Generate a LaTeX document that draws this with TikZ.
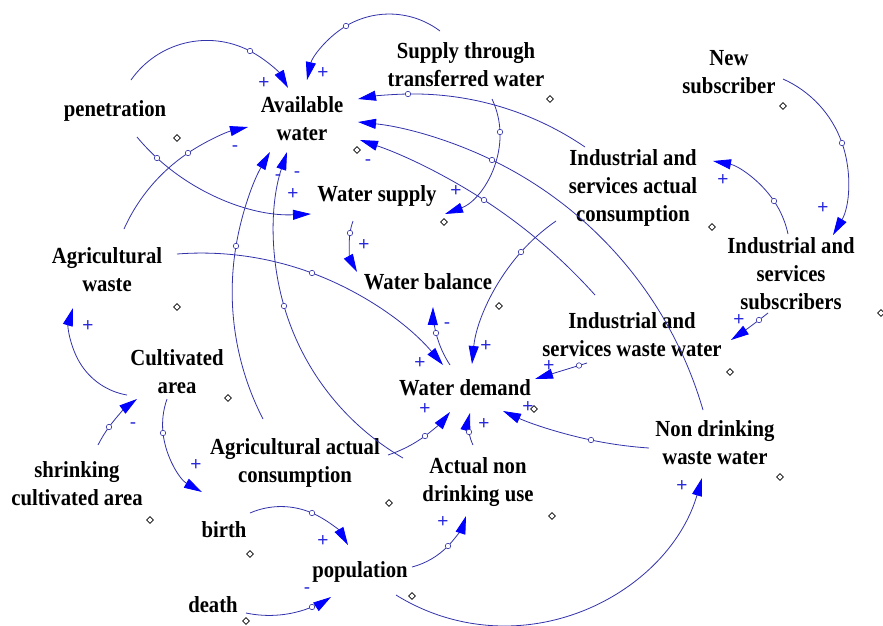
\documentclass[tikz,border=0pt]{standalone}
\usepackage{fontspec}
\setmainfont{Liberation Serif}
\newfontfamily\varfont{Liberation Serif}[FakeStretch=0.9]
\newfontfamily\signfont{Liberation Sans}
\usetikzlibrary{arrows.meta,shapes.geometric}
\definecolor{linkblue}{RGB}{50,50,170}
\definecolor{tipblue}{RGB}{0,0,255}
\definecolor{signblue}{RGB}{40,40,220}
\makeatletter
\newcommand\vnode[4]{%
  \node[var] (#1) at (#2,#3) {#4};%
  \expandafter\xdef\csname cx@#1\endcsname{#2}%
  \expandafter\xdef\csname cy@#1\endcsname{#3}}
% #1 from node, #2 #3 start point, #4 handle name, #5 #6 handle point, #7 to node, #8 #9 end point
\newcommand\cldlink[9]{%
  \edef\cl@fx{\csname cx@#1\endcsname}\edef\cl@fy{\csname cy@#1\endcsname}%
  \edef\cl@tx{\csname cx@#7\endcsname}\edef\cl@ty{\csname cy@#7\endcsname}%
  \pgfmathsetmacro\cl@sdx{(#2)-(\cl@fx)}%
  \pgfmathsetmacro\cl@sdy{(#3)-(\cl@fy)}%
  \pgfmathsetmacro\cl@edx{(#8)-(\cl@tx)}%
  \pgfmathsetmacro\cl@edy{(#9)-(\cl@ty)}%
  \pgfmathsetmacro\cl@bx{((#5)-(#2))/100}%
  \pgfmathsetmacro\cl@by{((#6)-(#3))/100}%
  \pgfmathsetmacro\cl@cx{((#8)-(#2))/100}%
  \pgfmathsetmacro\cl@cy{((#9)-(#3))/100}%
  \pgfmathsetmacro\cl@D{2*((\cl@bx)*(\cl@cy)-(\cl@by)*(\cl@cx))}%
  \pgfmathsetmacro\cl@lim{veclen(\cl@bx,\cl@by)*veclen(\cl@cx,\cl@cy)*veclen((\cl@cx)-(\cl@bx),(\cl@cy)-(\cl@by))/40}%
  \pgfmathtruncatemacro\cl@straight{abs(\cl@D)<(\cl@lim) ? 1 : 0}%
  \coordinate (#4) at (#5,#6);%
  \ifnum\cl@straight=1
    \draw[link] ([shift={(\cl@sdx,\cl@sdy)}]#1.center) -- (#4) -- ([shift={(\cl@edx,\cl@edy)}]#7.center);%
  \else
    \pgfmathsetmacro\cl@bb{(\cl@bx)*(\cl@bx)+(\cl@by)*(\cl@by)}%
    \pgfmathsetmacro\cl@cc{(\cl@cx)*(\cl@cx)+(\cl@cy)*(\cl@cy)}%
    \pgfmathsetmacro\cl@ox{((\cl@cy)*(\cl@bb)-(\cl@by)*(\cl@cc))/(\cl@D)}%
    \pgfmathsetmacro\cl@oy{((\cl@bx)*(\cl@cc)-(\cl@cx)*(\cl@bb))/(\cl@D)}%
    \pgfmathsetmacro\cl@aA{atan2(-(\cl@oy),-(\cl@ox))}%
    \pgfmathsetmacro\cl@aB{atan2((\cl@by)-(\cl@oy),(\cl@bx)-(\cl@ox))}%
    \pgfmathsetmacro\cl@aC{atan2((\cl@cy)-(\cl@oy),(\cl@cx)-(\cl@ox))}%
    \pgfmathsetmacro\cl@dB{Mod((\cl@aB)-(\cl@aA),360)}%
    \pgfmathsetmacro\cl@dC{Mod((\cl@aC)-(\cl@aA),360)}%
    \pgfmathsetmacro\cl@tA{(\cl@dB)<(\cl@dC) ? (\cl@dB) : (\cl@dB)-360}%
    \pgfmathsetmacro\cl@tB{(\cl@dC)-(\cl@dB)}%
    \pgfmathsetmacro\cl@kA{4/3*tan((\cl@tA)/4)}%
    \pgfmathsetmacro\cl@kB{4/3*tan((\cl@tB)/4)}%
    \pgfmathsetmacro\cl@mx{(\cl@bx)-(\cl@ox)}%
    \pgfmathsetmacro\cl@my{(\cl@by)-(\cl@oy)}%
    \pgfmathsetmacro\cl@ex{(\cl@cx)-(\cl@ox)}%
    \pgfmathsetmacro\cl@ey{(\cl@cy)-(\cl@oy)}%
    \pgfmathsetmacro\cl@Ax{(#2)+100*(\cl@kA)*(\cl@oy)}%
    \pgfmathsetmacro\cl@Ay{(#3)-100*(\cl@kA)*(\cl@ox)}%
    \pgfmathsetmacro\cl@Bx{(#5)+100*(\cl@kA)*(\cl@my)}%
    \pgfmathsetmacro\cl@By{(#6)-100*(\cl@kA)*(\cl@mx)}%
    \pgfmathsetmacro\cl@Cx{(#5)-100*(\cl@kB)*(\cl@my)}%
    \pgfmathsetmacro\cl@Cy{(#6)+100*(\cl@kB)*(\cl@mx)}%
    \pgfmathsetmacro\cl@Dx{(#8)+100*(\cl@kB)*(\cl@ey)}%
    \pgfmathsetmacro\cl@Dy{(#9)-100*(\cl@kB)*(\cl@ex)}%
    \draw[link] ([shift={(\cl@sdx,\cl@sdy)}]#1.center) .. controls (\cl@Ax,\cl@Ay) and (\cl@Bx,\cl@By) .. (#4) .. controls (\cl@Cx,\cl@Cy) and (\cl@Dx,\cl@Dy) .. ([shift={(\cl@edx,\cl@edy)}]#7.center);%
  \fi}
\makeatother
\begin{document}
\begin{tikzpicture}[x=1pt,y=-1pt,
  var/.style={font=\varfont\bfseries\fontsize{23}{28}\selectfont, align=center, inner sep=0pt, text=black},
  link/.style={draw=linkblue, line width=0.8pt, -{Triangle[length=18pt,width=10pt,color=tipblue]}},
  hcirc/.style={circle, draw=linkblue, fill=white, line width=0.6pt, minimum size=5.5pt, inner sep=0pt},
  diam/.style={diamond, draw=black, fill=white, line width=0.6pt, minimum size=7pt, inner sep=0pt},
  pol/.style={font=\signfont\fontsize{19}{19}\selectfont, text=signblue, inner sep=0pt, text height=0.6em, text depth=-0.1em}]
\fill[white] (0,0) rectangle (883,625);
\useasboundingbox (0,0) rectangle (883,625);
% variables
\vnode{pen}{115}{111}{penetration}
\vnode{aw}{302}{119}{Available\\water}
\vnode{stw}{466}{65}{Supply through\\transferred water}
\vnode{ns}{729}{72}{New\\subscriber}
\vnode{iac}{633}{188}{Industrial and\\services actual\\consumption}
\vnode{ws}{377}{196}{Water supply}
\vnode{wb}{428}{282}{Water balance}
\vnode{agw}{107}{270}{Agricultural\\waste}
\vnode{ca}{177}{372}{Cultivated\\area}
\vnode{iss}{791}{274}{Industrial and\\services\\subscribers}
\vnode{iww}{632}{335}{Industrial and\\services waste water}
\vnode{wd}{465}{388}{Water demand}
\vnode{ndw}{715}{443}{Non drinking\\waste water}
\vnode{sca}{77}{484}{shrinking\\cultivated area}
\vnode{aac}{295}{463}{Agricultural actual\\consumption}
\vnode{andu}{478}{482}{Actual non\\drinking use}
\vnode{birth}{224}{530}{birth}
\vnode{death}{213}{605}{death}
\vnode{pop}{360}{572}{population}
% causal links
\cldlink{pen}{131}{80}{h1}{250}{51}{aw}{288}{88}
\cldlink{pen}{137}{137}{h2}{157}{158}{ws}{311}{214}
\cldlink{stw}{440}{31}{h3}{346}{26}{aw}{307}{80}
\cldlink{stw}{492}{99}{h4}{500}{132}{ws}{445}{214}
\cldlink{iac}{585}{147}{h5}{408}{94}{aw}{358}{99}
\cldlink{ndw}{703}{410}{h6}{492}{160}{aw}{358}{122}
\cldlink{iww}{595}{295}{h7}{484}{200}{aw}{360}{140}
\cldlink{ws}{353}{221}{h8}{350}{233}{wb}{357}{272}
\cldlink{wd}{450}{365}{h9}{436}{333}{wb}{433}{307}
\cldlink{agw}{177}{254}{h10}{312}{273}{wd}{443}{365}
\cldlink{iac}{556}{221}{h11}{521}{252}{wd}{472}{364}
\cldlink{iww}{587}{363}{h12}{579}{365.5}{wd}{535}{379}
\cldlink{ndw}{649}{448}{h13}{591}{440}{wd}{503}{411}
\cldlink{aac}{388}{455}{h14}{425}{436}{wd}{450}{412}
\cldlink{andu}{473}{445}{h15}{469}{432}{wd}{470}{413}
\cldlink{ns}{783}{79}{h16}{842}{143}{iss}{833}{235}
\cldlink{iss}{788}{234}{h17}{774}{201}{iac}{713}{161}
\cldlink{ca}{127}{395}{h18}{80}{363}{agw}{73}{308}
\cldlink{sca}{98}{445}{h19}{109}{427}{ca}{137}{399}
\cldlink{ca}{167}{399}{h20}{163}{433}{birth}{202}{492}
\cldlink{birth}{250}{513}{h21}{312}{513}{pop}{348}{545}
\cldlink{death}{246}{613}{h22}{312}{607}{pop}{331}{597}
\cldlink{pop}{412}{567}{h23}{448}{546}{andu}{466}{516}
\cldlink{pop}{396}{595}{h24}{505}{626}{ndw}{702}{478}
\cldlink{agw}{124}{229}{h25}{188}{153}{aw}{248}{127}
\cldlink{aac}{263}{419}{h26}{236}{246}{aw}{270}{152}
\cldlink{andu}{403}{458}{h27}{284}{306}{aw}{287}{152}
\cldlink{iss}{768}{313}{h28}{759}{320}{iww}{731}{340}
% link handles
\foreach \h in {h1,h2,h3,h4,h5,h6,h7,h8,h9,h10,h11,h12,h13,h14,h15,h16,h17,h19,h20,h21,h22,h23,h25,h26,h27,h28}
  \node[hcirc] (\h-o) at (\h) {};
% variable markers
\node[diam] (d-pen) at (177,138) {};
\node[diam] (d-aw) at (357,150) {};
\node[diam] (d-stw) at (550,99) {};
\node[diam] (d-ws) at (444,222) {};
\node[diam] (d-ns) at (783,106) {};
\node[diam] (d-iac) at (712,227) {};
\node[diam] (d-agw) at (177,307) {};
\node[diam] (d-ca) at (228,398) {};
\node[diam] (d-wb) at (499,306) {};
\node[diam] (d-iss) at (881,313) {};
\node[diam] (d-iww) at (730,372) {};
\node[diam] (d-wd) at (534,409) {};
\node[diam] (d-ndw) at (780,477) {};
\node[diam] (d-sca) at (150,520) {};
\node[diam] (d-aac) at (389,503) {};
\node[diam] (d-andu) at (552,516) {};
\node[diam] (d-birth) at (250,554) {};
\node[diam] (d-death) at (246,621) {};
\node[diam] (d-pop) at (412,596) {};
% polarities
\node[pol] (p1) at (264,85) {+};
\node[pol] (p2) at (293,196) {+};
\node[pol] (p3) at (323,75) {+};
\node[pol] (p4) at (456,193) {+};
\node[pol] (p7) at (368,162) {-};
\node[pol] (p8) at (364,247) {+};
\node[pol] (p9) at (447,325) {-};
\node[pol] (p10) at (420,365) {+};
\node[pol] (p11) at (486,348) {+};
\node[pol] (p12) at (549,368) {+};
\node[pol] (p13) at (528,409) {+};
\node[pol] (p14) at (425,411) {+};
\node[pol] (p15) at (484,426) {+};
\node[pol] (p16) at (823,210) {+};
\node[pol] (p17) at (723,182) {+};
\node[pol] (p18) at (88,328) {+};
\node[pol] (p19) at (133,425) {-};
\node[pol] (p20) at (196,467) {+};
\node[pol] (p21) at (323,543) {+};
\node[pol] (p22) at (307,590) {-};
\node[pol] (p23) at (443,524) {+};
\node[pol] (p24) at (682,488) {+};
\node[pol] (p25) at (235,148) {-};
\node[pol] (p26) at (278,177) {-};
\node[pol] (p27) at (297,174) {-};
\node[pol] (p28) at (739,322) {+};
\end{tikzpicture}
\end{document}
